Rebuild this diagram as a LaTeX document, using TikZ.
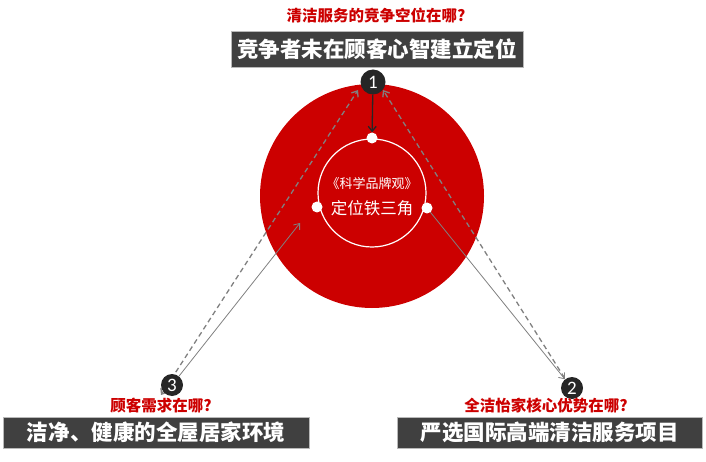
\documentclass[tikz,border=0pt]{standalone}
\usepackage{fontspec}
\setmainfont{Noto Sans CJK SC}
\newfontfamily\numfont{Carlito}
\usetikzlibrary{arrows.meta,calc}
\definecolor{redc}{HTML}{CC0000}
\definecolor{boxc}{HTML}{404040}
\definecolor{dotc}{HTML}{262626}
\definecolor{linec}{HTML}{808080}
\pgfdeclarelayer{back}\pgfdeclarelayer{mid}\pgfsetlayers{back,mid,main}
\begin{document}
\begin{tikzpicture}[x=1pt,y=-1pt,
  titlebox/.style={rectangle,fill=boxc,draw=gray!55,line width=0.6pt,text=white,inner sep=0pt,
    font=\bfseries\fontsize{21.5}{24}\selectfont},
  question/.style={text=redc,inner sep=0pt,font=\bfseries\fontsize{15.5}{18}\selectfont},
  numnode/.style={circle,fill=dotc,text=white,inner sep=0pt,font=\numfont\fontsize{19}{20}\selectfont},
  whitedot/.style={circle,fill=white,inner sep=0pt,minimum size=11pt},
  tip/.style={-{Straight Barb[length=5pt,width=8pt]}},
  dashline/.style={draw=linec,line width=1.3pt,dash pattern=on 5pt off 3.5pt},
  solidline/.style={draw=linec,line width=0.8pt},
  innertext/.style={text=white,inner sep=0pt}]
\useasboundingbox (0,0) rectangle (706,462);

% big red disc and white ring
\begin{pgfonlayer}{back}
  \fill[redc] (372,196) circle[radius=112];
  \draw[white,line width=1.2pt] (372,193) circle[radius=54];
\end{pgfonlayer}

% texts in the ring
\node[innertext,font=\fontsize{13}{15}\selectfont] (t1) at (372,184) {《科学品牌观》};
\node[innertext,font=\fontsize{16.5}{18}\selectfont] (t2) at (372,208) {定位铁三角};

% dots on the ring
\node[whitedot] (dT) at (372,138) {};
\node[whitedot] (dL) at (317,207) {};
\node[whitedot] (dR) at (427,208) {};

% numbered nodes
\node[numnode,minimum size=25pt] (n1) at (373,82) {1};
\node[numnode,minimum size=22pt] (n2) at (572,388) {2};
\node[numnode,minimum size=22pt] (n3) at (172,385) {3};

\coordinate (e3) at (300,223);

% connectors
\begin{pgfonlayer}{mid}
  \draw[dashline,{Straight Barb[length=5pt,width=8pt]}-{Straight Barb[length=5pt,width=8pt]}]
    ($(n3)+(-11,10)$) -- ($(n1)+(-15,8)$);
  \draw[dashline,tip] ($(n2)+(-3,-3)$) -- ($(n1)+(10,8)$);
  \draw[solidline,tip] (n3) -- (e3);
  \draw[solidline,tip] (dR.center) -- (n2);
  \draw[draw=dotc,line width=1.3pt,tip] (n1) -- (dT);
\end{pgfonlayer}

% labels and boxes
\node[question] (q1) at (376,15) {清洁服务的竞争空位在哪?};
\node[titlebox,minimum width=292pt,minimum height=36pt] (b1) at (377,49) {竞争者未在顾客心智建立定位};
\node[question] (q3) at (161,406) {顾客需求在哪?};
\node[titlebox,minimum width=306pt,minimum height=31pt] (b3) at (156,432.5) {洁净、健康的全屋居家环境};
\node[question] (q2) at (546,406) {全洁怡家核心优势在哪?};
\node[titlebox,minimum width=305pt,minimum height=31pt] (b2) at (549.5,432.5) {严选国际高端清洁服务项目};
\end{tikzpicture}
\end{document}
